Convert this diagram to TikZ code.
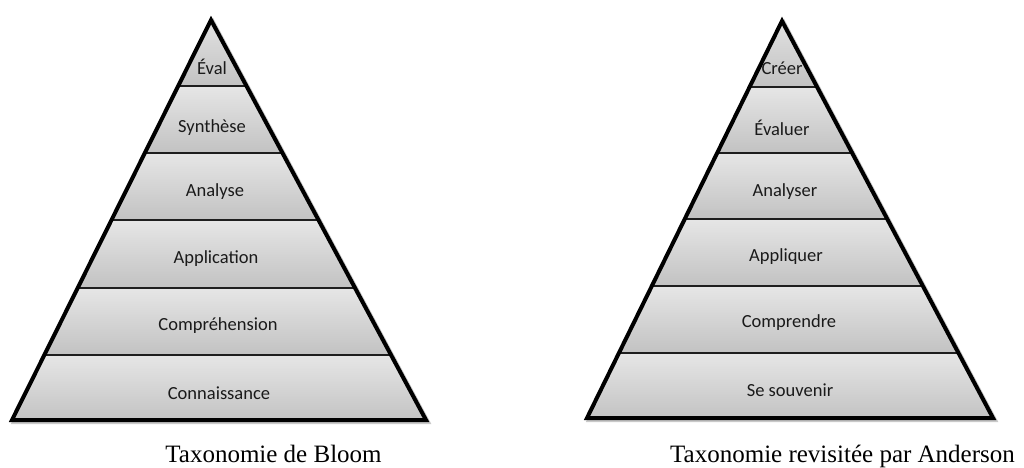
\documentclass[tikz,border=0pt]{standalone}
\usepackage{fontspec}
\setmainfont{Liberation Serif}
\newfontfamily\labelfont{Carlito}
\begin{document}
\begin{tikzpicture}[x=1pt,y=-1pt,
  bandfill/.style={top color=bandtop,bottom color=bandbot,draw=none},
  sepline/.style={draw=sepcol,line width=1.6pt},
  outline/.style={draw=black,line width=4pt,line join=miter},
  shadowline/.style={draw=black!35,line width=4pt,line join=miter,opacity=0.6},
  lbl/.style={font=\labelfont\fontsize{18.5}{22}\selectfont,text=labcol,inner sep=0pt},
  captext/.style={font=\fontsize{25}{28}\selectfont,anchor=base,inner sep=0pt}]
\definecolor{bandtop}{HTML}{E6E6E6}
\definecolor{bandbot}{HTML}{C2C2C2}
\definecolor{sepcol}{HTML}{1E1E1E}
\definecolor{labcol}{HTML}{1A1A1A}
\useasboundingbox[fill=white] (0,0) rectangle (1024,467);

% ---------- Left pyramid (Bloom) ----------
\coordinate (LA) at (211,20);
\coordinate (LL) at (12,420);
\coordinate (LR) at (426,420);
\draw[shadowline] ([shift={(2,2)}]LA) -- ([shift={(2,2)}]LR) -- ([shift={(2,2)}]LL) -- cycle;
\begin{scope}
  \clip (LA) -- (LR) -- (LL) -- cycle;
  \shade[bandfill] (0,10) rectangle (440,86);
  \shade[bandfill] (0,86) rectangle (440,153);
  \shade[bandfill] (0,153) rectangle (440,220);
  \shade[bandfill] (0,220) rectangle (440,288);
  \shade[bandfill] (0,288) rectangle (440,355);
  \shade[bandfill] (0,355) rectangle (440,422);
  \draw[sepline] (0,86) -- (440,86);
  \draw[sepline] (0,153) -- (440,153);
  \draw[sepline] (0,220) -- (440,220);
  \draw[sepline] (0,288) -- (440,288);
  \draw[sepline] (0,355) -- (440,355);
\end{scope}
\draw[outline] (LA) -- (LR) -- (LL) -- cycle;

\node[lbl] (b1) at (212,67) {Éval};
\node[lbl] (b2) at (212,128) {Synthèse};
\node[lbl] (b3) at (215,192) {Analyse};
\node[lbl] (b4) at (216,259) {Application};
\node[lbl] (b5) at (218,326) {Compréhension};
\node[lbl] (b6) at (219,393) {Connaissance};
\node[captext] (capL) at (273.5,462) {Taxonomie de Bloom};

% ---------- Right pyramid (Anderson) ----------
\coordinate (RA) at (782,21);
\coordinate (RL) at (587,418);
\coordinate (RR) at (993,418);
\draw[shadowline] ([shift={(2,2)}]RA) -- ([shift={(2,2)}]RR) -- ([shift={(2,2)}]RL) -- cycle;
\begin{scope}
  \clip (RA) -- (RR) -- (RL) -- cycle;
  \shade[bandfill] (570,10) rectangle (1010,87);
  \shade[bandfill] (570,87) rectangle (1010,153);
  \shade[bandfill] (570,153) rectangle (1010,219);
  \shade[bandfill] (570,219) rectangle (1010,286);
  \shade[bandfill] (570,286) rectangle (1010,353);
  \shade[bandfill] (570,353) rectangle (1010,420);
  \draw[sepline] (570,87) -- (1010,87);
  \draw[sepline] (570,153) -- (1010,153);
  \draw[sepline] (570,219) -- (1010,219);
  \draw[sepline] (570,286) -- (1010,286);
  \draw[sepline] (570,353) -- (1010,353);
\end{scope}
\draw[outline] (RA) -- (RR) -- (RL) -- cycle;

\node[lbl] (a1) at (782,68) {Créer};
\node[lbl] (a2) at (782,128) {Évaluer};
\node[lbl] (a3) at (785,192) {Analyser};
\node[lbl] (a4) at (786,257) {Appliquer};
\node[lbl] (a5) at (789,323) {Comprendre};
\node[lbl] (a6) at (790,390) {Se souvenir};
\node[captext] (capR) at (842.5,462) {Taxonomie revisitée par Anderson};
\end{tikzpicture}
\end{document}
